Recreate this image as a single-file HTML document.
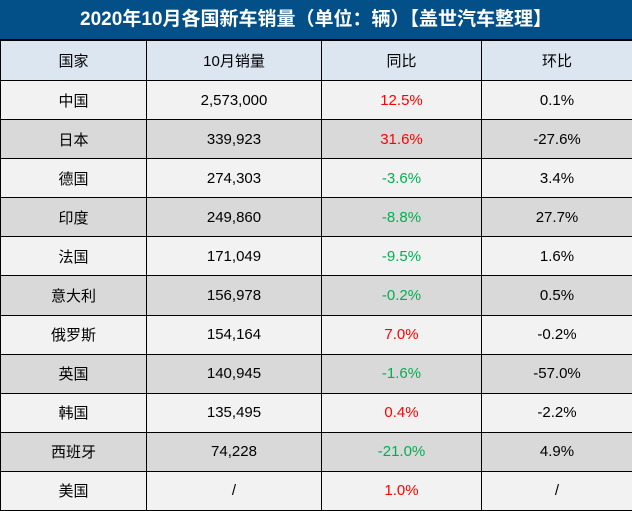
<!DOCTYPE html><html><head><meta charset="utf-8"><style>
body{margin:0;width:632px;height:511px;overflow:hidden;background:#fff;font-family:"Liberation Sans","Noto Sans CJK SC",sans-serif;}
.t{position:absolute;left:0;top:0;width:632px;height:40px;background:#034f88;color:#fff;font-size:19px;font-weight:bold;line-height:40px;text-align:center;border-bottom:1px solid #000;box-sizing:border-box}
table{position:absolute;left:0;top:40px;border-collapse:collapse;width:632px;table-layout:fixed}
td{border:1px solid #000;height:38px;padding:0;text-align:center;font-size:15px;color:#000}
tr{height:39.1px}
tr.h td{background:#dce6f1;height:39px}
tr.a td{background:#f2f2f2}
tr.b td{background:#d9d9d9}
.r{color:#f00!important}.g{color:#00b050!important}
</style></head><body>
<div class="t">2020年10月各国新车销量（单位：辆）【盖世汽车整理】</div>
<table>
<col style="width:146px"><col style="width:175px"><col style="width:160px"><col style="width:151px">
<tr class="h"><td>国家</td><td>10月销量</td><td>同比</td><td>环比</td></tr>
<tr class="a"><td>中国</td><td>2,573,000</td><td class="r">12.5%</td><td>0.1%</td></tr>
<tr class="b"><td>日本</td><td>339,923</td><td class="r">31.6%</td><td>-27.6%</td></tr>
<tr class="a"><td>德国</td><td>274,303</td><td class="g">-3.6%</td><td>3.4%</td></tr>
<tr class="b"><td>印度</td><td>249,860</td><td class="g">-8.8%</td><td>27.7%</td></tr>
<tr class="a"><td>法国</td><td>171,049</td><td class="g">-9.5%</td><td>1.6%</td></tr>
<tr class="b"><td>意大利</td><td>156,978</td><td class="g">-0.2%</td><td>0.5%</td></tr>
<tr class="a"><td>俄罗斯</td><td>154,164</td><td class="r">7.0%</td><td>-0.2%</td></tr>
<tr class="b"><td>英国</td><td>140,945</td><td class="g">-1.6%</td><td>-57.0%</td></tr>
<tr class="a"><td>韩国</td><td>135,495</td><td class="r">0.4%</td><td>-2.2%</td></tr>
<tr class="b"><td>西班牙</td><td>74,228</td><td class="g">-21.0%</td><td>4.9%</td></tr>
<tr class="a"><td>美国</td><td>/</td><td class="r">1.0%</td><td>/</td></tr>
</table>
</body></html>
